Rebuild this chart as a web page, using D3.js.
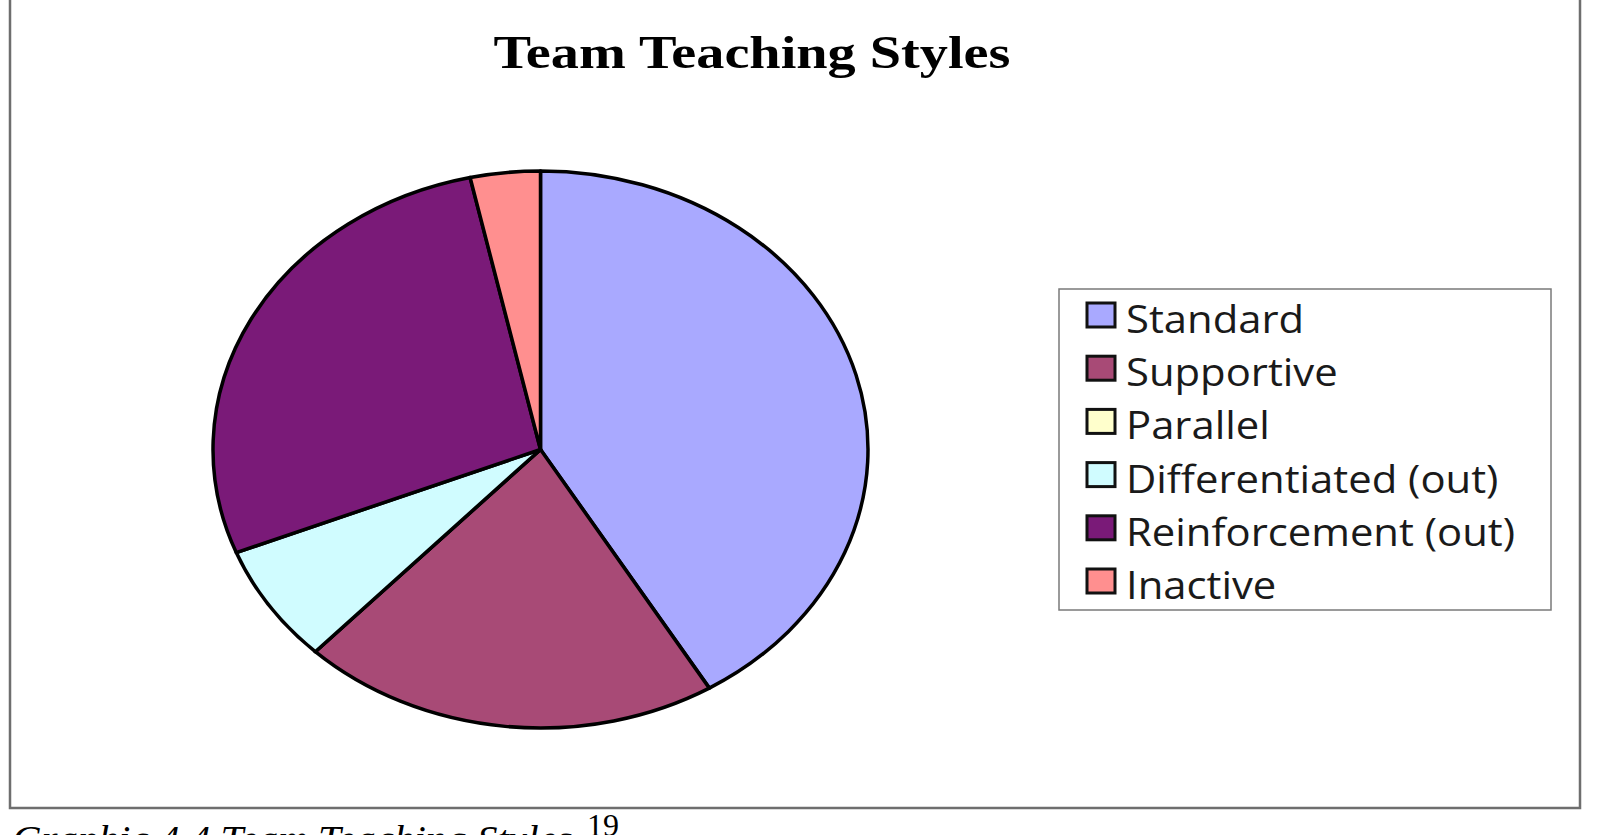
<!DOCTYPE html>
<html>
<head>
<meta charset="utf-8">
<script src="https://cdn.jsdelivr.net/npm/d3@7"></script>
<style>
  body { margin: 0; background: #fff; }
  svg { display: block; }
</style>
</head>
<body>
<div id="chart"></div>
<script>
// chart data
const categories = ["Standard", "Supportive", "Parallel", "Differentiated (out)", "Reinforcement (out)", "Inactive"];
const counts = [12, 6, 0, 2, 8, 1];
const colors = ["#a9a9ff", "#a84a76", "#ffffcc", "#d0fcff", "#7a1a78", "#ff8f8f"];
const title = "Team Teaching Styles";
const caption = "Graphic 4.4 Team Teaching Styles";
const footnote = "19";

const W = 1601, H = 835;

const svg = d3.select("#chart").append("svg")
    .attr("width", W)
    .attr("height", H);

// frame (top edge is cropped off)
svg.append("path")
    .attr("d", "M10,-5 V808 H1580 V-5")
    .attr("fill", "none")
    .attr("stroke", "#6e6e6e")
    .attr("stroke-width", 2.5);

// title
svg.append("text")
    .attr("x", 752)
    .attr("y", 68)
    .attr("text-anchor", "middle")
    .attr("font-family", "'Liberation Serif', 'DejaVu Serif', serif")
    .attr("font-weight", "bold")
    .attr("font-size", 46)
    .attr("textLength", 517)
    .attr("lengthAdjust", "spacingAndGlyphs")
    .text(title);

// pie, drawn as circle and stretched into the ellipse of the reference
const cx = 540.5, cy = 449.5, rx = 327.5, ry = 278.5;

const pie = d3.pie().sort(null).value(d => d);
const arc = d3.arc().innerRadius(0).outerRadius(ry);

const pieG = svg.append("g")
    .attr("transform", `translate(${cx},${cy}) scale(${rx / ry},1)`);

pieG.selectAll("path")
    .data(pie(counts))
    .join("path")
    .attr("d", arc)
    .attr("fill", (d, i) => colors[i])
    .attr("stroke", "#000")
    .attr("stroke-width", 3.5)
    .attr("stroke-linejoin", "round")
    .attr("vector-effect", "non-scaling-stroke");

// legend
const legend = svg.append("g");

legend.append("rect")
    .attr("x", 1059)
    .attr("y", 289)
    .attr("width", 492)
    .attr("height", 321)
    .attr("fill", "#fff")
    .attr("stroke", "#7a7a7a")
    .attr("stroke-width", 1.5);

const rowY = d3.scalePoint()
    .domain(categories)
    .range([333, 599]);

const rows = legend.selectAll("g.row")
    .data(categories)
    .join("g")
    .attr("class", "row")
    .attr("transform", d => `translate(0,${rowY(d)})`);

rows.append("rect")
    .attr("x", 1087)
    .attr("y", -30)
    .attr("width", 28)
    .attr("height", 24)
    .attr("fill", (d, i) => colors[i])
    .attr("stroke", "#111")
    .attr("stroke-width", 3);

// the reference glyphs are a bit stretched sideways
rows.append("text")
    .attr("transform", "translate(1126,0) scale(1.1,1)")
    .attr("font-family", "'Open Sans', Lato, sans-serif")
    .attr("font-size", 38)
    .attr("fill", "#1a1a1a")
    .text(d => d);

// caption below the frame, cut off by the page edge
svg.append("text")
    .attr("x", 12)
    .attr("y", 853)
    .attr("font-family", "'Liberation Serif', 'Times New Roman', serif")
    .attr("font-style", "italic")
    .attr("font-size", 41)
    .text(caption);

svg.append("text")
    .attr("x", 587)
    .attr("y", 836)
    .attr("font-family", "'Liberation Serif', 'Times New Roman', serif")
    .attr("font-size", 32)
    .text(footnote);
</script>
</body>
</html>
